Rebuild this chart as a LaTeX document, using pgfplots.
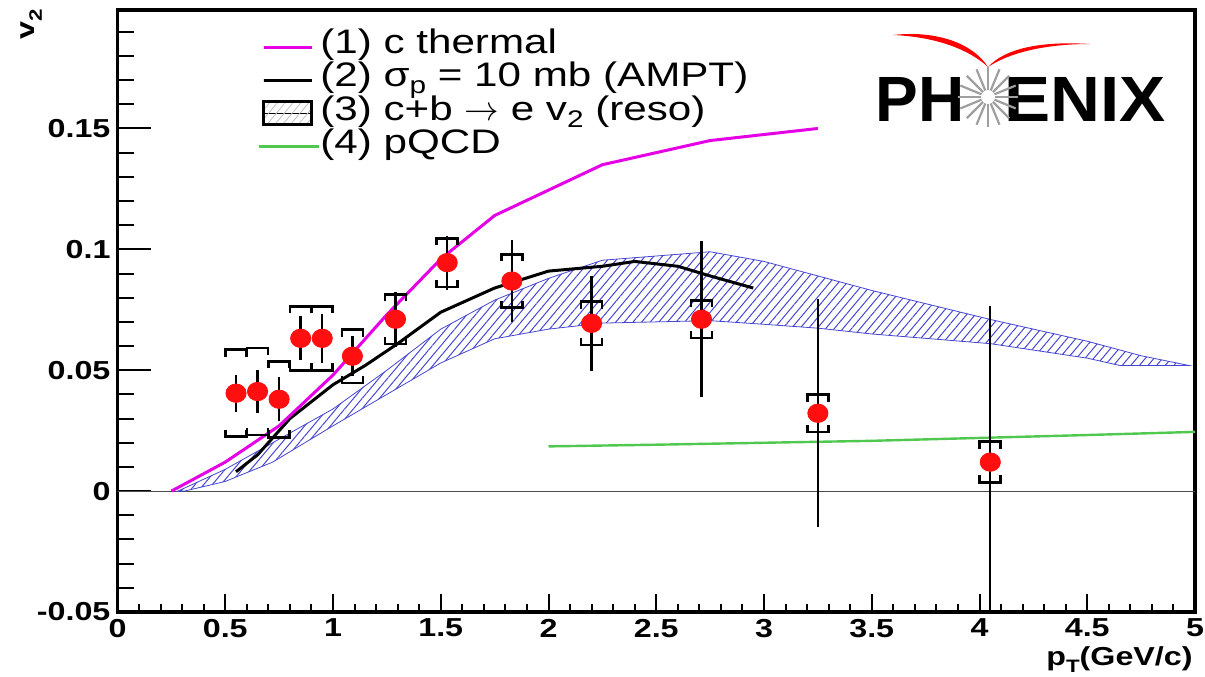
\documentclass[border=0pt]{standalone}
\usepackage{pgfplots}
\pgfplotsset{compat=1.18}
\usepackage{pgfplotstable}
\usepackage{fontspec}
\setmainfont{Liberation Sans}[FakeStretch=1.24]
\newfontfamily\boldsans{Liberation Sans Bold}[FakeStretch=1.24]
\newfontfamily\logofont{Liberation Sans Bold}
\usetikzlibrary{patterns.meta}

\definecolor{thermal}{RGB}{230,0,230}
\definecolor{pqcd}{RGB}{80,200,80}
\definecolor{hatch}{RGB}{70,70,210}
\definecolor{dot}{RGB}{255,15,15}

% heavy-flavour electron v2: pT, v2, statistical error, systematic error
\pgfplotstableread{
x     y       stat    sys
0.55  0.0405  0.0060  0.0180
0.65  0.0412  0.0072  0.0180
0.75  0.0380  0.0075  0.0157
0.85  0.0632  0.0075  0.0132
0.95  0.0632  0.0085  0.0132
1.09  0.0558  0.0066  0.0110
1.29  0.0711  0.0098  0.0103
1.53  0.0945  0.0095  0.0101
1.83  0.0869  0.0153  0.0110
2.20  0.0694  0.0180  0.0090
2.71  0.0711  0.0305  0.0078
3.25  0.0322  0.0455  0.0077
4.05  0.0120  0.0628  0.0084
}\electrons

% systematic brackets
\pgfdeclareplotmark{systop}{%
  \pgfpathmoveto{\pgfqpoint{-5.25pt}{-3.5pt}}%
  \pgfpathlineto{\pgfqpoint{-5.25pt}{0pt}}%
  \pgfpathlineto{\pgfqpoint{5.25pt}{0pt}}%
  \pgfpathlineto{\pgfqpoint{5.25pt}{-3.5pt}}%
  \pgfusepathqstroke}
\pgfdeclareplotmark{sysbot}{%
  \pgfpathmoveto{\pgfqpoint{-5.25pt}{3.5pt}}%
  \pgfpathlineto{\pgfqpoint{-5.25pt}{0pt}}%
  \pgfpathlineto{\pgfqpoint{5.25pt}{0pt}}%
  \pgfpathlineto{\pgfqpoint{5.25pt}{3.5pt}}%
  \pgfusepathqstroke}

\pgfplotsset{
  rootframe/.style={
    width=538.75pt, height=301pt, scale only axis,
    xmin=0, xmax=5, ymin=-0.05, ymax=0.199,
    axis line style={line width=1.6pt},
    tick align=inside,
    tick style={black, line width=1pt},
    tick label style={font=\boldsans\fontsize{13}{13}\selectfont},
  },
}

\begin{document}
\begin{tikzpicture}
\useasboundingbox (-58.75pt,-32pt) rectangle (543.75pt,306pt);

% x axis: ticks, tick labels and title
\begin{axis}[rootframe,
  xtick={0,0.5,1,1.5,2,2.5,3,3.5,4,4.5,5},
  xticklabels={0,0.5,1,1.5,2,2.5,3,3.5,4,4.5,5},
  minor x tick num=4,
  ytick=\empty,
  xtick pos=bottom,
  major tick length=9pt, minor tick length=4pt,
  xlabel={p\raisebox{-0.55ex}{\fontsize{9}{9}\selectfont T}(GeV/c)},
  xlabel style={at={(axis description cs:1,0)}, anchor=north east,
    yshift=-17pt, xshift=-1pt, inner sep=0pt,
    font=\boldsans\fontsize{13}{13}\selectfont},
]
\end{axis}

% y axis and the data
\begin{axis}[rootframe,
  xtick=\empty,
  ytick={-0.05,0,0.05,0.1,0.15},
  yticklabels={-0.05,0,0.05,0.1,0.15},
  minor ytick={-0.04,-0.03,-0.02,-0.01,0.01,0.02,0.03,0.04,0.06,0.07,0.08,0.09,0.11,0.12,0.13,0.14,0.16,0.17,0.18,0.19},
  ytick pos=left,
  major tick length=16.5pt, minor tick length=8pt,
  ylabel={v\raisebox{-0.55ex}{\fontsize{9}{9}\selectfont 2}},
  ylabel style={at={(axis description cs:-0.08,0.977)}, anchor=center,
    inner sep=0pt, font=\boldsans\fontsize{13}{13}\selectfont},
  legend image code/.code={%
    \path (0pt,0pt) rectangle (24pt,0pt);
    \draw[overlay,#1] (0pt,0pt) -- (24pt,0pt);},
  legend cell align=left,
  legend style={at={(axis description cs:0.1341,0.9668)}, anchor=north west,
    draw=none, fill=none, inner sep=0pt, row sep=0pt, column sep=3.5pt,
    font=\fontsize{17}{17}\selectfont,
    nodes={inner sep=0pt, text height=11.55pt, text depth=5.1pt}},
]
% zero line
\addplot[forget plot, draw=black!70, line width=0.6pt] coordinates {(0,0) (5,0)};

% (3) c+b -> e v2 band
\addplot[forget plot, draw=hatch, line width=0.4pt,
  pattern={Lines[angle=50,distance=3.3pt,line width=0.5pt]}, pattern color=hatch]
coordinates {
  (0.28,0) (0.5,0.009) (0.72,0.020) (1.0,0.034) (1.25,0.050) (1.5,0.067)
  (1.75,0.079) (2.0,0.088) (2.25,0.0955) (2.75,0.099) (3.0,0.095)
  (3.25,0.089) (3.5,0.083) (4.05,0.071) (4.5,0.062) (4.75,0.056) (4.97,0.052)
  (4.97,0.052) (4.65,0.052) (4.5,0.055) (4.05,0.061) (3.5,0.065)
  (3.25,0.0674) (3.0,0.069) (2.75,0.0705) (2.25,0.0695) (2.0,0.067)
  (1.75,0.063) (1.5,0.053) (1.25,0.040) (1.0,0.027) (0.72,0.012)
  (0.5,0.004) (0.31,0)
} -- cycle;

% (4) pQCD
\addplot[forget plot, pqcd, line width=1.2pt] coordinates {
  (2.0,0.0185) (2.5,0.0192) (3.0,0.0200) (3.5,0.0208) (4.0,0.0220) (4.5,0.0232) (5.0,0.0245)};

% (2) AMPT, sigma_p = 10 mb
\addplot[forget plot, black, line width=1.5pt] coordinates {
  (0.55,0.008) (0.65,0.015) (0.8,0.030) (1.0,0.044) (1.15,0.052) (1.3,0.061)
  (1.5,0.074) (1.75,0.084) (2.0,0.091) (2.25,0.093) (2.4,0.095) (2.6,0.093)
  (2.75,0.089) (2.95,0.084)};

% (1) c thermal
\addplot[forget plot, thermal, line width=1.5pt] coordinates {
  (0.25,0) (0.5,0.012) (0.75,0.027) (1.0,0.048) (1.25,0.073) (1.5,0.096)
  (1.75,0.114) (2.25,0.135) (2.75,0.145) (3.25,0.150)};

% systematic brackets
\addplot[forget plot, only marks, mark=systop, mark options={black, line width=1.3pt}]
  table[x=x, y expr=\thisrow{y}+\thisrow{sys}] {\electrons};
\addplot[forget plot, only marks, mark=sysbot, mark options={black, line width=1.3pt}]
  table[x=x, y expr=\thisrow{y}-\thisrow{sys}] {\electrons};

% statistical errors
\addplot[forget plot, draw=none, mark=none,
  error bars/.cd, y dir=both, y explicit,
  error bar style={black, line width=1.2pt},
  error mark=-, error mark options={black, mark size=2pt, line width=1.2pt}]
  table[x=x, y=y, y error=stat] {\electrons};

% data points
\addplot[forget plot, only marks, mark=*, mark size=4.6pt,
  mark options={fill=dot, draw=dot, xscale=1.1}]
  table[x=x, y=y] {\electrons};

\addlegendimage{thermal, line width=1.5pt}
\addlegendentry{(1) c thermal}
\addlegendimage{black, line width=1.5pt}
\addlegendentry{(2) σ\raisebox{-0.4ex}{\fontsize{12}{12}\selectfont p} = 10 mb (AMPT)}
\addlegendimage{legend image code/.code={%
  \path (0pt,0pt) rectangle (24pt,0pt);
  \draw[overlay, black, line width=1.4pt, fill=white,
    pattern={Lines[angle=50,distance=3pt,line width=0.4pt]}, pattern color=black!25]
    (0pt,-5.5pt) rectangle (24pt,6pt);}}
\addlegendentry{(3) c+b $\rightarrow$ e v\raisebox{-0.4ex}{\fontsize{12}{12}\selectfont 2} (reso)}
\addlegendimage{legend image code/.code={%
  \path (0pt,0pt) rectangle (24pt,0pt);
  \draw[overlay, pqcd, line width=1.5pt] (-2.5pt,0pt) -- (27.5pt,0pt);}}
\addlegendentry{(4) pQCD}
\end{axis}

% PHENIX logo
\node[anchor=base west, inner sep=0pt, font=\logofont\fontsize{32}{32}\selectfont]
  at (378.75pt,245pt) {PH};
\node[anchor=base east, inner sep=0pt, xscale=1.08, font=\logofont\fontsize{32}{32}\selectfont]
  at (524.25pt,245pt) {ENIX};
\foreach \a in {0,22.5,...,337.5}
  \draw[gray!75, line width=1.1pt] (435.25pt,257.5pt) ++(\a:3.5pt) -- ++(\a:11.5pt);
\fill[red] (387.75pt,288.5pt) .. controls (410pt,291pt) and (428pt,284pt) .. (435.25pt,272.5pt)
  .. controls (426pt,281pt) and (410pt,287.5pt) .. (387.75pt,288.5pt) -- cycle;
\fill[red] (435.25pt,272.5pt) .. controls (444pt,282pt) and (462pt,285.5pt) .. (486.25pt,284pt)
  .. controls (462pt,284pt) and (445pt,279pt) .. (435.25pt,272.5pt) -- cycle;
\end{tikzpicture}
\end{document}
